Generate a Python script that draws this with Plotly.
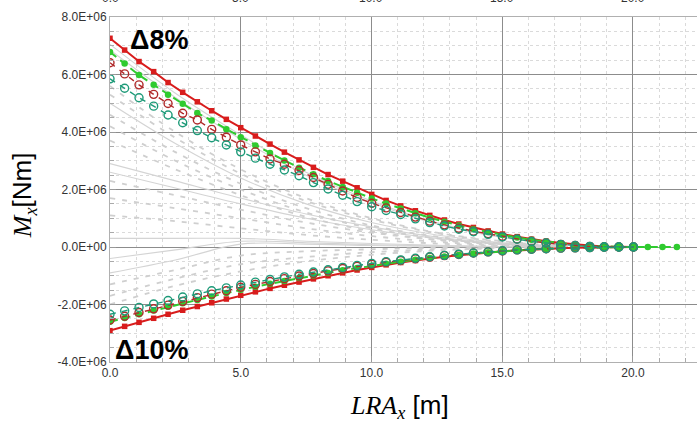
import plotly.graph_objects as go

# x positions (m)
X = [0.0, 0.56, 1.11, 1.67, 2.22, 2.78, 3.34, 3.89, 4.45, 5.0, 5.56, 6.12, 6.67, 7.23, 7.78,
     8.34, 8.9, 9.45, 10.01, 10.56, 11.12, 11.68, 12.23, 12.79, 13.34, 13.9, 14.46, 15.01,
     15.57, 16.12, 16.68, 17.24, 17.79, 18.35, 18.9, 19.46, 20.02, 20.57, 21.13, 21.68]

# values in 1e6 Nm
RED_UP = [7.26, 6.85, 6.45, 6.10, 5.72, 5.38, 5.05, 4.74, 4.44, 4.15, 3.86, 3.58, 3.30, 3.03,
          2.77, 2.52, 2.29, 2.06, 1.83, 1.62, 1.43, 1.26, 1.10, 0.94, 0.80, 0.68, 0.56, 0.45,
          0.36, 0.27, 0.20, 0.14, 0.09, 0.05, 0.02, 0.01, 0.0]
GREEN_UP = [6.78, 6.38, 5.98, 5.64, 5.30, 4.98, 4.66, 4.40, 4.10, 3.82, 3.53, 3.27, 3.01, 2.76,
            2.53, 2.30, 2.09, 1.89, 1.69, 1.51, 1.34, 1.17, 1.02, 0.88, 0.75, 0.63, 0.52, 0.42,
            0.33, 0.25, 0.19, 0.13, 0.08, 0.05, 0.02, 0.0, 0.0, 0.0, 0.0, 0.0]
DRED_UP = [6.41, 6.02, 5.64, 5.31, 4.99, 4.65, 4.42, 4.09, 3.82, 3.55, 3.31, 3.06, 2.88, 2.66,
           2.42, 2.18, 1.95, 1.72, 1.52, 1.36, 1.20, 1.04, 0.90, 0.77, 0.65, 0.55, 0.46, 0.37,
           0.28, 0.20, 0.14, 0.09, 0.05, 0.02, 0.01, 0.0, 0.0]
TEAL_UP = [5.85, 5.52, 5.19, 4.90, 4.59, 4.32, 4.05, 3.80, 3.55, 3.31, 3.09, 2.88, 2.68, 2.48,
           2.24, 2.02, 1.80, 1.58, 1.40, 1.27, 1.13, 0.98, 0.85, 0.73, 0.62, 0.53, 0.44, 0.35,
           0.27, 0.19, 0.14, 0.09, 0.05, 0.02, 0.01, 0.0, 0.0]

RED_LO = [-2.91, -2.76, -2.62, -2.48, -2.34, -2.20, -2.07, -1.94, -1.81, -1.68, -1.56, -1.44,
          -1.33, -1.22, -1.11, -1.00, -0.90, -0.80, -0.71, -0.62, -0.54, -0.47, -0.40, -0.34,
          -0.29, -0.24, -0.19, -0.15, -0.12, -0.09, -0.06, -0.04, -0.03, -0.02, -0.01, 0.0, 0.0]
GREEN_LO = [-2.60, -2.47, -2.34, -2.21, -2.08, -1.96, -1.84, -1.72, -1.60, -1.49, -1.38, -1.28,
            -1.18, -1.08, -0.99, -0.90, -0.81, -0.73, -0.65, -0.58, -0.51, -0.44, -0.38, -0.33,
            -0.28, -0.23, -0.19, -0.15, -0.11, -0.08, -0.06, -0.04, -0.03, -0.02, -0.01, 0.0, 0.0]
DRED_LO = [-2.54, -2.41, -2.28, -2.15, -2.02, -1.89, -1.76, -1.64, -1.52, -1.40, -1.30, -1.20,
           -1.10, -1.01, -0.92, -0.83, -0.75, -0.67, -0.60, -0.53, -0.47, -0.41, -0.35, -0.30,
           -0.26, -0.21, -0.17, -0.14, -0.10, -0.08, -0.06, -0.04, -0.03, -0.02, -0.01, 0.0, 0.0]
TEAL_LO = [-2.34, -2.22, -2.10, -1.98, -1.86, -1.74, -1.63, -1.52, -1.42, -1.32, -1.22, -1.13,
           -1.04, -0.95, -0.87, -0.79, -0.71, -0.64, -0.57, -0.51, -0.45, -0.39, -0.34, -0.29,
           -0.25, -0.21, -0.17, -0.13, -0.10, -0.08, -0.06, -0.04, -0.03, -0.02, -0.01, 0.0, 0.0]

# background (grey) load cases, sampled at GX
GX = [0.0, 2.5, 5.0, 7.5, 10.0, 12.5, 15.0, 17.5]
GRAY_SOLID = [
    [7.05, 5.35, 3.90, 2.60, 1.60, 0.85, 0.35, 0.08],
    [6.85, 5.20, 3.75, 2.50, 1.55, 0.80, 0.33, 0.07],
    [5.00, 3.60, 2.40, 1.50, 0.85, 0.42, 0.15, 0.03],
    [2.90, 2.30, 1.70, 1.15, 0.70, 0.35, 0.12, 0.02],
    [2.60, 2.05, 1.50, 1.00, 0.60, 0.30, 0.10, 0.02],
    [0.30, 0.30, 0.30, 0.20, 0.12, 0.06, 0.02, 0.0],
    [-0.40, -0.10, 0.20, 0.15, 0.08, 0.04, 0.01, 0.0],
    [-0.90, -0.45, 0.10, 0.10, 0.05, 0.02, 0.0, 0.0],
]
GRAY_DASH = [
    [5.60, 4.00, 2.70, 1.70, 1.00, 0.50, 0.20, 0.05],
    [5.30, 3.80, 2.55, 1.60, 0.95, 0.48, 0.18, 0.04],
    [4.60, 3.30, 2.20, 1.35, 0.75, 0.36, 0.12, 0.02],
    [4.20, 3.00, 2.00, 1.20, 0.65, 0.30, 0.10, 0.02],
    [3.70, 2.70, 1.80, 1.05, 0.55, 0.25, 0.08, 0.01],
    [2.30, 1.80, 1.30, 0.85, 0.50, 0.25, 0.08, 0.01],
    [1.70, 1.35, 1.00, 0.65, 0.38, 0.18, 0.06, 0.01],
    [1.10, 0.90, 0.65, 0.42, 0.25, 0.12, 0.04, 0.0],
    [-1.30, -0.80, -0.30, -0.15, -0.08, -0.03, -0.01, 0.0],
    [-1.70, -1.10, -0.60, -0.35, -0.18, -0.08, -0.02, 0.0],
    [-2.00, -1.35, -0.85, -0.50, -0.27, -0.12, -0.04, 0.0],
]

Y_TICKS = [-4e6, -2e6, 0, 2e6, 4e6, 6e6, 8e6]
Y_TICK_TEXT = ["-4.0E+06", "-2.0E+06", "0.0E+00", "2.0E+06", "4.0E+06", "6.0E+06", "8.0E+06"]
X_TICKS = [0, 5, 10, 15, 20]
X_TICK_TEXT = ["0.0", "5.0", "10.0", "15.0", "20.0"]

SCALE = 1e6
fig = go.Figure()

for g in GRAY_SOLID:
    fig.add_trace(go.Scatter(x=GX, y=[v * SCALE for v in g], mode="lines", line_shape="spline",
                             line=dict(color="#d4d4d4", width=1.1), hoverinfo="skip"))
for g in GRAY_DASH:
    fig.add_trace(go.Scatter(x=GX, y=[v * SCALE for v in g], mode="lines", line_shape="spline",
                             line=dict(color="#cfcfcf", width=1.8, dash="5px,7px"), hoverinfo="skip"))

def add(series, color, symbol, size, dash, width, open_marker=False):
    xs = X[:len(series)]
    ys = [v * SCALE for v in series]
    if open_marker:
        marker = dict(symbol=symbol, size=size, color=color, line=dict(color=color, width=1.4))
    else:
        marker = dict(symbol=symbol, size=size, color=color)
    fig.add_trace(go.Scatter(x=xs, y=ys, mode="lines+markers",
                             line=dict(color=color, width=width, dash=dash), marker=marker))

TEAL = "#1d9a78"
DRED = "#b02a2a"
GREEN = "#2fcb2f"
RED = "#d81c1c"

for s in (RED_UP, RED_LO):
    add(s, RED, "square", 5.5, "solid", 2)
for s in (GREEN_UP, GREEN_LO):
    add(s, GREEN, "circle", 6.5, "8px,5px", 2)
for s in (DRED_UP, DRED_LO):
    add(s, DRED, "circle-open", 8, "6px,6px", 1.4, True)
for s in (TEAL_UP, TEAL_LO):
    add(s, TEAL, "circle-open", 8, "6px,6px", 1.4, True)

tickfont = dict(family="Liberation Sans, Arial, sans-serif", size=12, color="#333")

fig.update_layout(
    width=697, height=425,
    margin=dict(l=110, r=0, t=17, b=63),
    paper_bgcolor="white", plot_bgcolor="white",
    showlegend=False,
    xaxis=dict(range=[0, 22.45], tickvals=X_TICKS, ticktext=X_TICK_TEXT, tickfont=tickfont,
               showgrid=True, gridcolor="#8c8c8c", gridwidth=1, zeroline=False,
               showline=True, linecolor="#b0b0b0", mirror=True,
               ticks="inside", ticklen=6, tickcolor="#999",
               minor=dict(dtick=1, showgrid=True, gridcolor="#dadada", griddash="dot",
                          ticks="inside", ticklen=4, tickcolor="#aaa")),
    yaxis=dict(range=[-4e6, 8e6], tickvals=Y_TICKS, ticktext=Y_TICK_TEXT, tickfont=tickfont,
               showgrid=True, gridcolor="#8c8c8c", gridwidth=1, zeroline=False,
               showline=True, linecolor="#b0b0b0",
               ticks="inside", ticklen=6, tickcolor="#999",
               minor=dict(dtick=0.5e6, showgrid=True, gridcolor="#dadada", griddash="dot",
                          ticks="inside", ticklen=4, tickcolor="#aaa")),
)

serif = "Liberation Serif, DejaVu Serif, serif"
sans = "Liberation Sans, Arial, sans-serif"
ann = [
    dict(xref="paper", yref="paper", x=-0.148, y=0.484, xanchor="center", yanchor="middle",
         textangle=-90, showarrow=False,
         text=f'<span style="font-family:{serif}"><i>M</i><sub><i>x</i></sub></span>[Nm]',
         font=dict(family=sans, size=26, color="black")),
    dict(xref="paper", yref="paper", x=0.494, y=-0.13, xanchor="center", yanchor="middle",
         showarrow=False,
         text=f'<span style="font-family:{serif}"><i>LRA</i><sub><i>x</i></sub></span> [m]',
         font=dict(family=sans, size=26, color="black")),
    dict(xref="paper", yref="paper", x=0.03, y=0.933, xanchor="left", yanchor="middle",
         showarrow=False, text="<b>Δ8%</b>", font=dict(family=sans, size=27, color="black")),
    dict(xref="paper", yref="paper", x=0.005, y=0.035, xanchor="left", yanchor="middle",
         showarrow=False, text="<b>Δ10%</b>", font=dict(family=sans, size=27, color="black")),
]
for v, t in zip(X_TICKS, X_TICK_TEXT):
    ann.append(dict(xref="x", yref="paper", x=v, y=1, yanchor="bottom", yshift=10,
                    showarrow=False, text=t, font=tickfont))
fig.update_layout(annotations=ann)

fig.write_html("out.html", config={"displayModeBar": False},
               post_script="document.body.style.margin='0';document.body.style.padding='0';")
